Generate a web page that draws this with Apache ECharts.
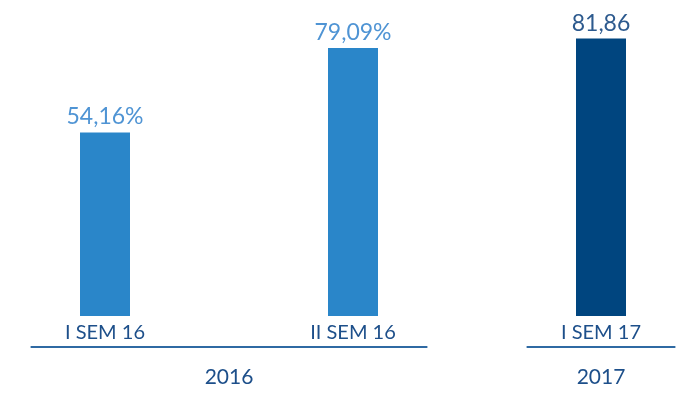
<!DOCTYPE html>
<html>
    <head>
        <meta charset="UTF-8">
        <title>Semestres</title>
        <script type="text/javascript" src="https://cdn.jsdelivr.net/npm/echarts@6/dist/echarts.min.js"></script>
    </head>
    <body style="height: 100%; margin: 0; overflow: hidden;">
        <div id="container" style="width: 678px; height: 410px;"></div>
    </body>
    <script type="text/javascript">
        var dom = document.getElementById("container");
        var myChart = echarts.init(dom);

        // datos
        var categories = ['I SEM 16', 'II SEM 16', 'I SEM 17'];
        var values = [54.16, 79.09, 81.86];
        var valueLabels = ['54,16%', '79,09%', '81,86'];
        var barColors = ['#2a86c9', '#2a86c9', '#00457f'];
        var labelColors = ['#4f94d4', '#4f94d4', '#2d5a8e'];
        // grupos de años: desde / hasta (índice de categoría)
        var yearGroups = [
            { from: 0, to: 1, name: '2016' },
            { from: 2, to: 2, name: '2017' }
        ];

        var FONT = 'Lato, sans-serif';
        var darkBlue = '#1d4f8a';

        var option = {
            animation: false,
            grid: {
                left: -19,
                right: -47,
                top: 11,
                bottom: 94,
                outerBoundsMode: 'none'
            },
            xAxis: {
                type: 'category',
                data: categories,
                axisLine: { show: false },
                axisTick: { show: false },
                axisLabel: {
                    margin: 7,
                    fontSize: 20,
                    fontFamily: FONT,
                    color: darkBlue
                }
            },
            yAxis: {
                type: 'value',
                min: 0,
                max: 90,
                show: false
            },
            series: [
                {
                    type: 'bar',
                    barWidth: 50,
                    data: values.map(function (v, i) {
                        return {
                            value: v,
                            itemStyle: { color: barColors[i] },
                            label: { color: labelColors[i] }
                        };
                    }),
                    label: {
                        show: true,
                        position: 'top',
                        distance: 4,
                        fontSize: 23,
                        fontFamily: FONT,
                        formatter: function (p) {
                            return valueLabels[p.dataIndex];
                        }
                    }
                },
                {
                    type: 'custom',
                    clip: false,
                    silent: true,
                    data: yearGroups.map(function (g) { return [g.from, 0]; }),
                    renderItem: function (params, api) {
                        var g = yearGroups[params.dataIndex];
                        var band = api.size([1, 0])[0];
                        var p1 = api.coord([g.from, 0]);
                        var p2 = api.coord([g.to, 0]);
                        var x1 = p1[0] - band * 0.3;
                        var x2 = p2[0] + band * 0.3;
                        var y0 = p1[1];
                        return {
                            type: 'group',
                            children: [
                                {
                                    type: 'line',
                                    shape: { x1: x1, y1: y0 + 31, x2: x2, y2: y0 + 31 },
                                    style: { stroke: '#2f6aa3', lineWidth: 2 }
                                },
                                {
                                    type: 'text',
                                    x: (x1 + x2) / 2,
                                    y: y0 + 61,
                                    style: {
                                        text: g.name,
                                        fill: darkBlue,
                                        font: '21px ' + FONT,
                                        align: 'center',
                                        verticalAlign: 'middle'
                                    }
                                }
                            ]
                        };
                    }
                }
            ]
        };

        myChart.setOption(option);
    </script>
</html>
